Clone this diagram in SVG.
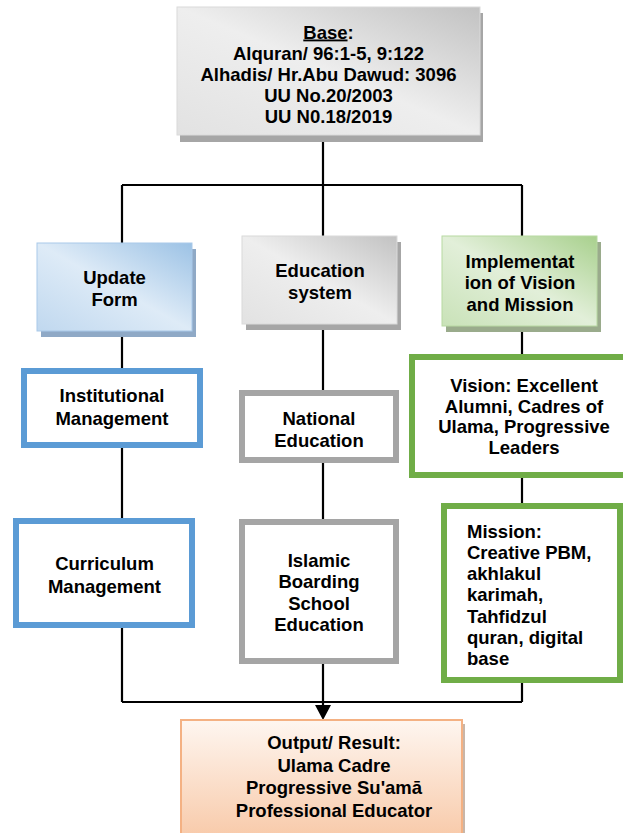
<svg xmlns="http://www.w3.org/2000/svg" width="623" height="833" viewBox="0 0 623 833">
<defs>
<linearGradient id="gGray" x1="1" y1="0" x2="0" y2="1">
<stop offset="0" stop-color="#c2c2c2"/><stop offset="0.5" stop-color="#eeeeee"/><stop offset="1" stop-color="#e2e2e2"/>
</linearGradient>
<linearGradient id="gBlue" x1="1" y1="0" x2="0" y2="1">
<stop offset="0" stop-color="#9cc2e5"/><stop offset="0.5" stop-color="#deebf7"/><stop offset="1" stop-color="#c0d8ef"/>
</linearGradient>
<linearGradient id="gGreen" x1="1" y1="0" x2="0" y2="1">
<stop offset="0" stop-color="#a8d08d"/><stop offset="0.5" stop-color="#e2efd9"/><stop offset="1" stop-color="#c9e2b8"/>
</linearGradient>
<linearGradient id="gOrange" x1="0" y1="0" x2="0" y2="1">
<stop offset="0" stop-color="#fef6f0"/><stop offset="1" stop-color="#f8c9a8"/>
</linearGradient>
<style>
text{font-family:"Liberation Sans",Arial,sans-serif;font-weight:bold;font-size:18.5px;fill:#000}
.c{text-anchor:middle}
.line{stroke:#000;stroke-width:2.2;fill:none}
.blue{fill:#fff;stroke:#5b9bd5;stroke-width:6}
.gray{fill:#fff;stroke:#a5a5a5;stroke-width:6}
.green{fill:#fff;stroke:#70ad47;stroke-width:6}
</style>
</defs>

<g id="connectors">
<path class="line" d="M323 135V185M122 185H522M122 185V243M323 185V236M522 185V236"/>
<path class="line" d="M122 331V368M122 448V518M122 628V702"/>
<path class="line" d="M323 324V390M323 463V519M323 664V702"/>
<path class="line" d="M522 326V354M522 478V503M522 683V702"/>
<path class="line" d="M122 702H522M323 702V707"/>
<polygon points="315,705 331,705 323,720" fill="#000"/>
</g>

<g id="base">
<rect x="180" y="13" width="303" height="129" fill="#a6a6a6"/>
<rect x="177" y="7" width="303" height="128" fill="url(#gGray)" stroke="#dadada" stroke-width="1"/>
<text class="c" x="328.5" y="38.5"><tspan text-decoration="underline">Base</tspan>:</text>
<text class="c" x="328.5" y="59.5">Alquran/ 96:1-5, 9:122</text>
<text class="c" x="328.5" y="80.5">Alhadis/ Hr.Abu Dawud: 3096</text>
<text class="c" x="328.5" y="101.5">UU No.20/2003</text>
<text class="c" x="328.5" y="123">UU N0.18/2019</text>
</g>

<g id="update-form">
<rect x="41" y="249" width="155" height="88" fill="#8fa9c6"/>
<rect x="37" y="243" width="155" height="88" fill="url(#gBlue)" stroke="#a9c9e9" stroke-width="1"/>
<text class="c" x="114.5" y="284">Update</text>
<text class="c" x="114.5" y="306">Form</text>
</g>

<g id="education-system">
<rect x="246" y="242" width="155" height="88" fill="#a6a6a6"/>
<rect x="242" y="236" width="155" height="88" fill="url(#gGray)" stroke="#dadada" stroke-width="1"/>
<text class="c" x="320" y="276.5">Education</text>
<text class="c" x="320" y="298.5">system</text>
</g>

<g id="implementation">
<rect x="446" y="242" width="155" height="90" fill="#9aab8c"/>
<rect x="442" y="236" width="155" height="90" fill="url(#gGreen)" stroke="#b8d9a2" stroke-width="1"/>
<text class="c" x="520" y="267.5">Implementat</text>
<text class="c" x="520" y="289">ion of Vision</text>
<text class="c" x="520" y="310.5">and Mission</text>
</g>

<g id="institutional-management">
<rect class="blue" x="24" y="371" width="176" height="74"/>
<text class="c" x="112" y="401.5">Institutional</text>
<text class="c" x="112" y="424.5">Management</text>
</g>

<g id="curriculum-management">
<rect class="blue" x="16" y="521" width="176" height="104"/>
<text class="c" x="104.5" y="569.5">Curriculum</text>
<text class="c" x="104.5" y="592.5">Management</text>
</g>

<g id="national-education">
<rect class="gray" x="242" y="393" width="154" height="67"/>
<text class="c" x="319" y="424.5">National</text>
<text class="c" x="319" y="446.5">Education</text>
</g>

<g id="islamic-boarding">
<rect class="gray" x="242" y="522" width="154" height="139"/>
<text class="c" x="319" y="566.5">Islamic</text>
<text class="c" x="319" y="588">Boarding</text>
<text class="c" x="319" y="609.5">School</text>
<text class="c" x="319" y="631">Education</text>
</g>

<g id="vision">
<rect class="green" x="412" y="357" width="216" height="118"/>
<text class="c" x="524" y="391.5">Vision: Excellent</text>
<text class="c" x="524" y="412.5">Alumni, Cadres of</text>
<text class="c" x="524" y="433">Ulama, Progressive</text>
<text class="c" x="524" y="454">Leaders</text>
</g>

<g id="mission">
<rect class="green" x="444" y="506" width="176" height="174"/>
<text x="467" y="537.5">Mission:</text>
<text x="467" y="559">Creative PBM,</text>
<text x="467" y="580">akhlakul</text>
<text x="467" y="601">karimah,</text>
<text x="467" y="622.5">Tahfidzul</text>
<text x="467" y="644">quran, digital</text>
<text x="467" y="665">base</text>
</g>

<g id="output">
<rect x="184" y="724" width="281" height="120" fill="#c9b6a8"/>
<rect x="181" y="720" width="281" height="120" fill="url(#gOrange)" stroke="#f4b183" stroke-width="2"/>
<text class="c" x="334" y="749">Output/ Result:</text>
<text class="c" x="334" y="771.5">Ulama Cadre</text>
<text class="c" x="334" y="794">Progressive Su'amā</text>
<text class="c" x="334" y="816.5">Professional Educator</text>
</g>
</svg>
